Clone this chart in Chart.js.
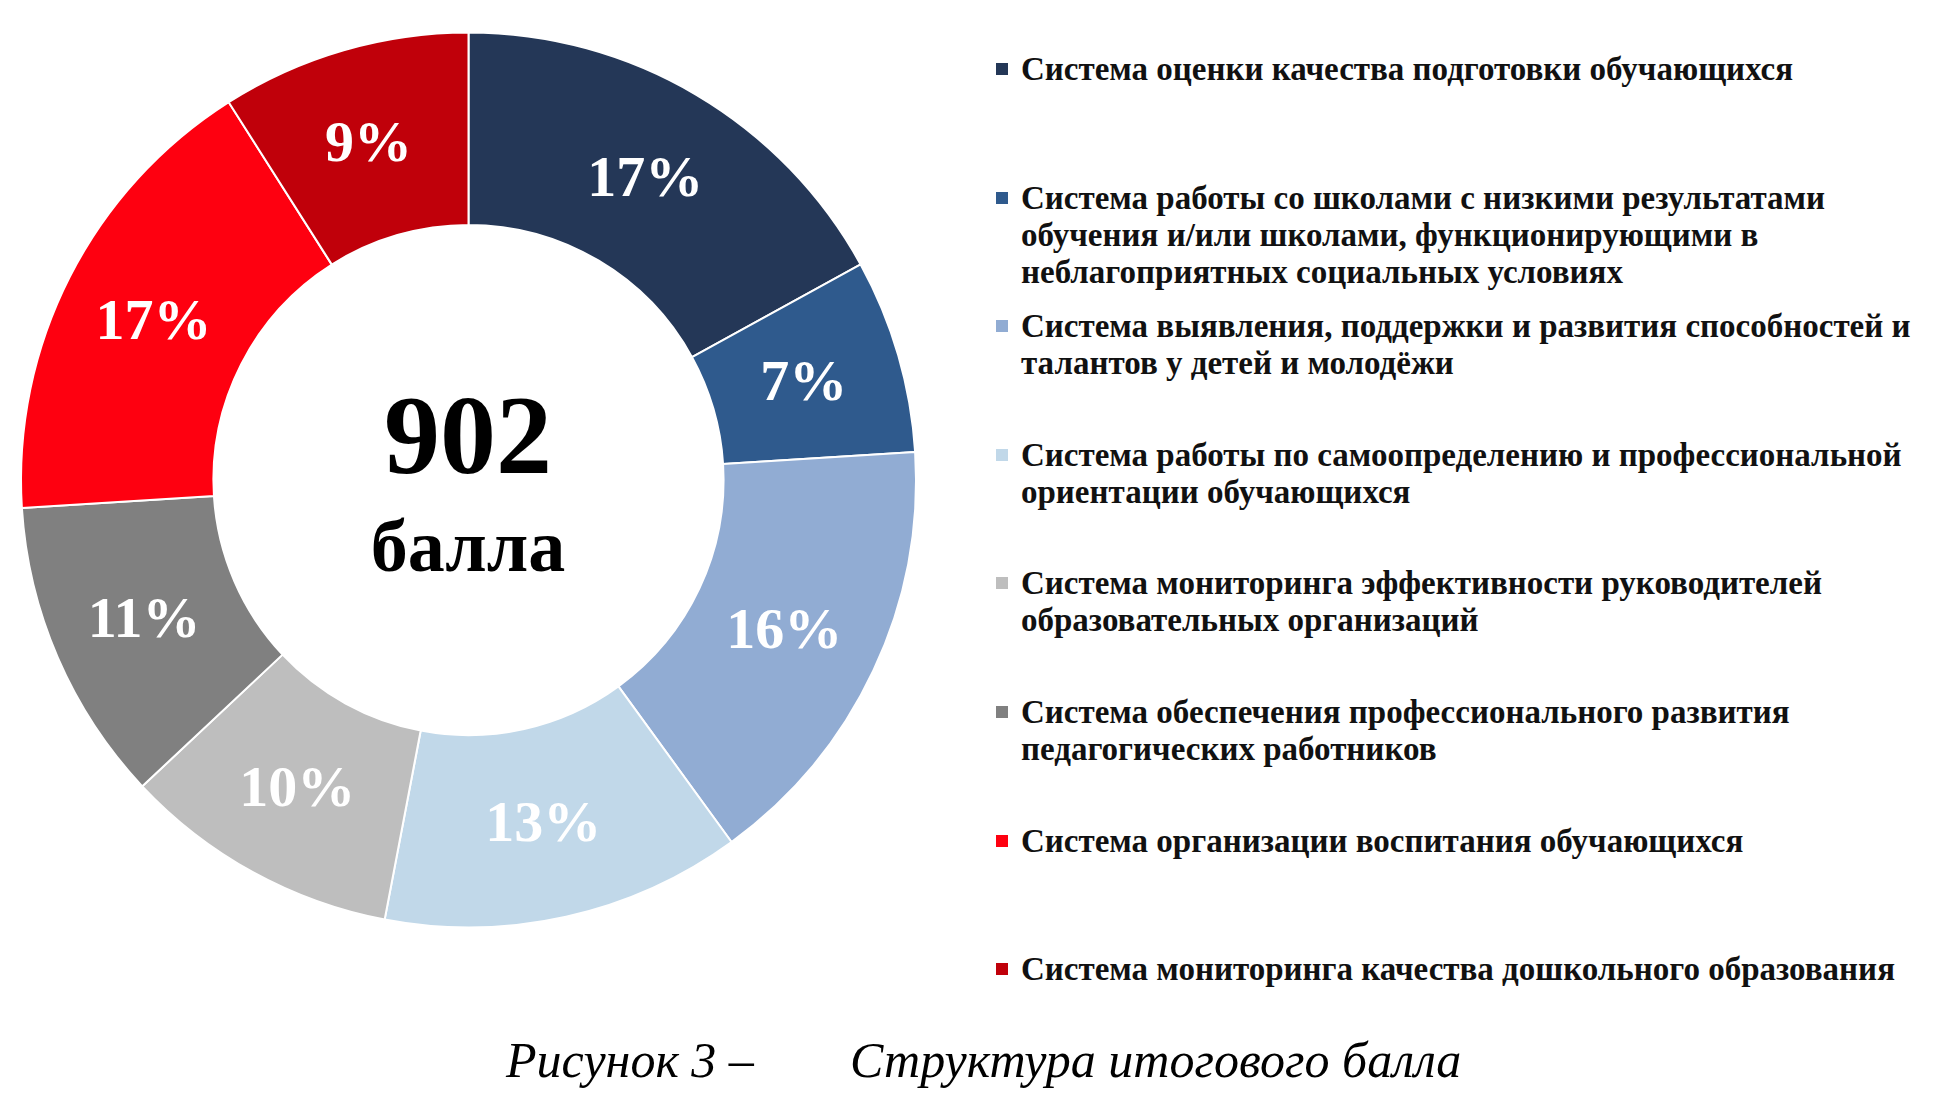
<!DOCTYPE html>
<html lang="ru">
<head>
<meta charset="utf-8">
<script src="https://cdn.jsdelivr.net/npm/chart.js@4/dist/chart.umd.min.js"></script>
<style>
  html, body { margin: 0; padding: 0; background: #fff; }
  #page { position: relative; width: 1934px; height: 1106px; overflow: hidden; font-family: "Liberation Serif", "Times New Roman", serif; }
  #donutBox { position: absolute; left: 0; top: 0; width: 942px; height: 962px; }
  .center { position: absolute; left: 268px; width: 400px; text-align: center; font-weight: bold; color: #000; line-height: 1; }
  #legend { position: absolute; left: 996px; top: 51px; }
  .item { position: relative; height: 128.6px; }
  .box { position: absolute; left: 0; top: 12px; width: 12px; height: 12px; }
  .txt { position: absolute; left: 25px; top: 0; white-space: nowrap; font-weight: bold; font-size: 33px; line-height: 37px; color: #111; }
  .cap { position: absolute; top: 1030px; font-style: italic; font-size: 50px; line-height: 60px; color: #000; white-space: nowrap; }
</style>
</head>
<body>
<div id="page">
  <div id="donutBox"><canvas id="donut"></canvas></div>
  <div class="center" id="total" style="top:379px;font-size:112px;"></div>
  <div class="center" id="unit" style="top:509px;font-size:74px;"></div>
  <div id="legend"></div>
  <div class="cap" style="left:506px;">Рисунок 3 –</div>
  <div class="cap" style="left:850px;">Структура итогового балла</div>
</div>
<script>
// Segments, clockwise from 12 o'clock
const categories = [
  ['Система оценки качества подготовки обучающихся'],
  ['Система работы со школами с низкими результатами', 'обучения и/или школами, функционирующими в', 'неблагоприятных социальных условиях'],
  ['Система выявления, поддержки и развития способностей и', 'талантов у детей и молодёжи'],
  ['Система работы по самоопределению и профессиональной', 'ориентации обучающихся'],
  ['Система мониторинга эффективности руководителей', 'образовательных организаций'],
  ['Система обеспечения профессионального развития', 'педагогических работников'],
  ['Система организации воспитания обучающихся'],
  ['Система мониторинга качества дошкольного образования']
];
const shares = [17, 7, 16, 13, 10, 11, 17, 9]; // %
const colors = ['#243757', '#2F5A8D', '#91ACD3', '#C1D8E9', '#BEBEBE', '#808080', '#FE0010', '#C0000A'];
const totalScore = '902';
const totalUnit = 'балла';

document.getElementById('total').textContent = totalScore;
document.getElementById('unit').textContent = totalUnit;

// HTML legend
const legend = document.getElementById('legend');
categories.forEach((lines, i) => {
  const item = document.createElement('div');
  item.className = 'item';
  const box = document.createElement('div');
  box.className = 'box';
  box.style.background = colors[i];
  const txt = document.createElement('div');
  txt.className = 'txt';
  txt.innerHTML = lines.join('<br>');
  item.appendChild(box);
  item.appendChild(txt);
  legend.appendChild(item);
});

// percent labels in the middle of the ring
const sliceLabels = {
  id: 'sliceLabels',
  afterDatasetsDraw(chart) {
    const ctx = chart.ctx;
    const meta = chart.getDatasetMeta(0);
    ctx.save();
    ctx.font = 'bold 58px "Liberation Serif", serif';
    ctx.fillStyle = '#fff';
    ctx.textAlign = 'center';
    ctx.textBaseline = 'middle';
    meta.data.forEach((arc, i) => {
      const p = arc.tooltipPosition();
      ctx.fillText(shares[i] + '%', p.x - 2, p.y + 3);
    });
    ctx.restore();
  }
};

new Chart(document.getElementById('donut'), {
  type: 'doughnut',
  data: {
    labels: categories.map(l => l.join(' ')),
    datasets: [{
      data: shares,
      backgroundColor: colors,
      borderColor: '#fff',
      borderWidth: 2
    }]
  },
  options: {
    responsive: true,
    maintainAspectRatio: false,
    animation: false,
    cutout: '57%',
    layout: { padding: { left: 20, right: 25, top: 31.5, bottom: 33.5 } },
    plugins: {
      legend: { display: false },
      tooltip: { enabled: false }
    }
  },
  plugins: [sliceLabels]
});
</script>
</body>
</html>
